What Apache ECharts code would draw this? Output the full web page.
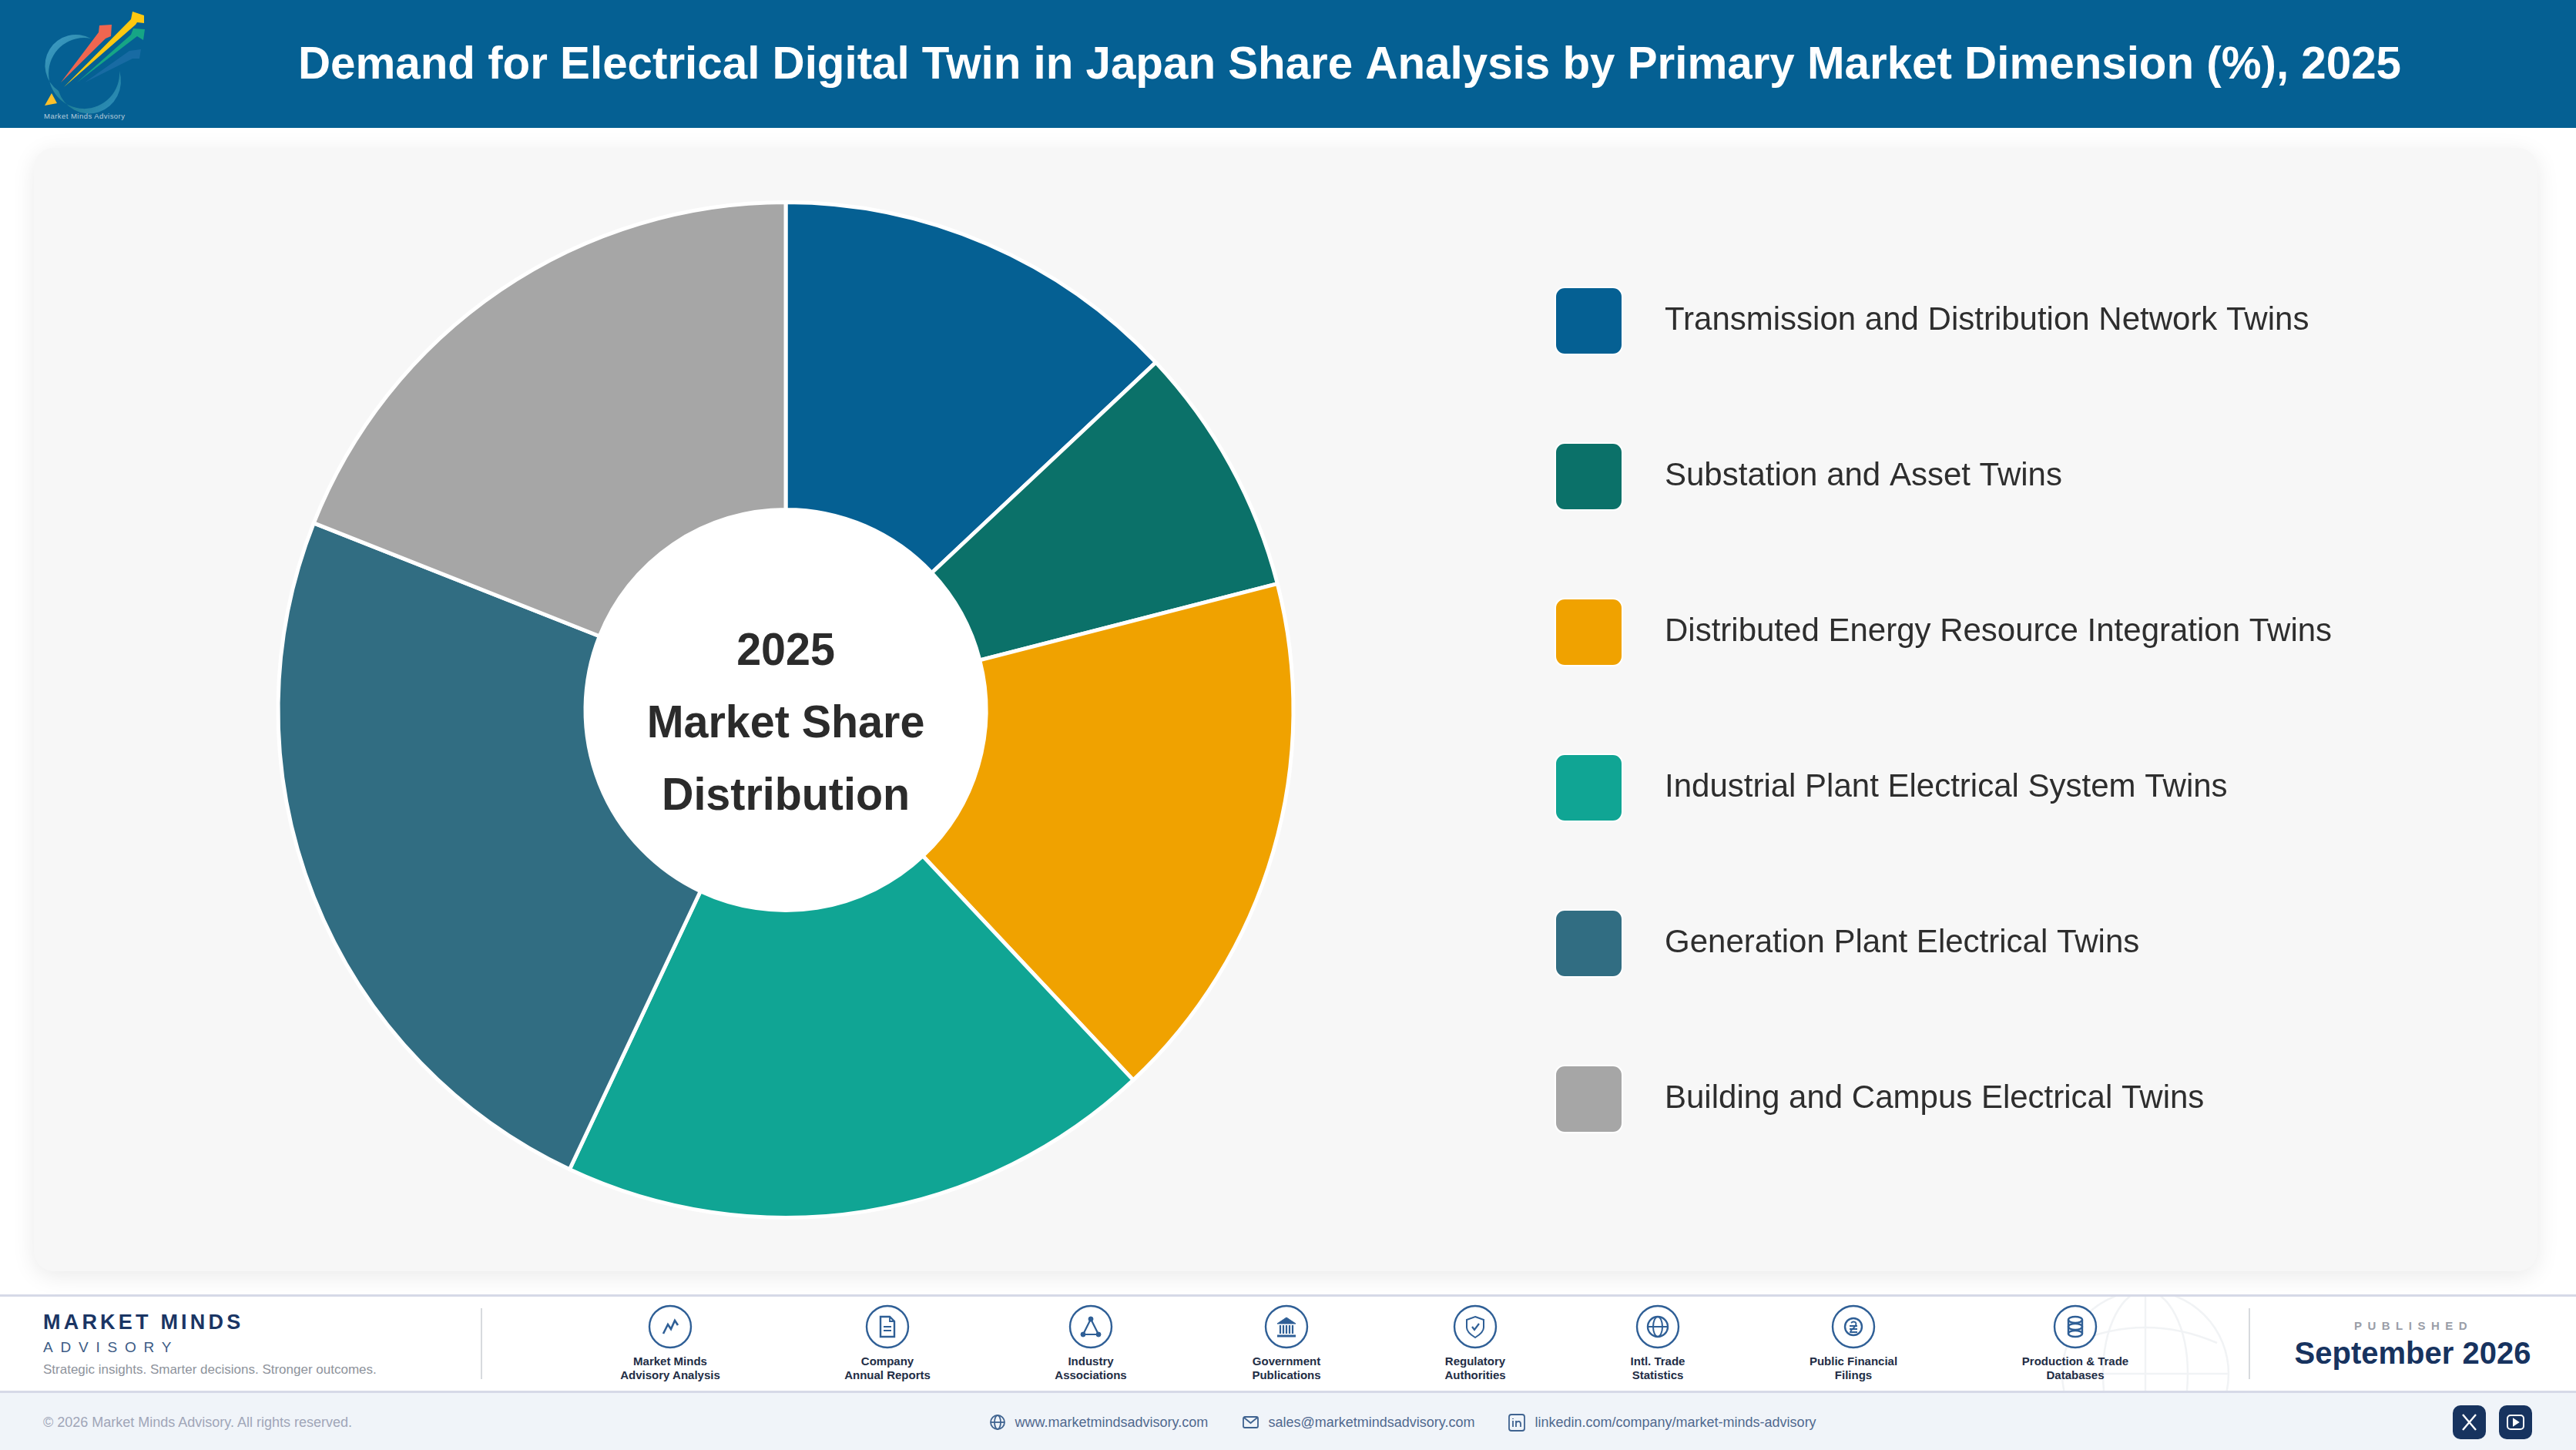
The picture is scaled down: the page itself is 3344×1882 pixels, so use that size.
<!DOCTYPE html>
<html><head><meta charset="utf-8">
<script src="https://cdn.jsdelivr.net/npm/echarts@6/dist/echarts.min.js"></script>
<style>
html,body{margin:0;padding:0;background:#fff;width:3344px;height:1882px;overflow:hidden;font-family:"Liberation Sans",Arial,sans-serif}
.abs,.abs *{box-sizing:border-box}
.abs{position:absolute;white-space:nowrap}
#header{left:0;top:0;width:3344px;height:166px;background:#056093}
#card{left:44px;top:192px;width:3250px;height:1458px;background:#f7f7f7;border-radius:26px;box-shadow:0 6px 30px rgba(0,0,0,.085)}
#chart{position:absolute;left:0;top:0;width:3344px;height:1882px}
#band{left:0;top:1680px;width:3344px;height:128px;background:#fff;border-top:3px solid #d6d9e7;border-bottom:3px solid #d6d9e7;overflow:hidden}
#strip{left:0;top:1808px;width:3344px;height:74px;background:#f0f4f9}
.ctr{transform:translate(-50%,-50%);text-align:center}
.lbl{font-size:15px;font-weight:700;line-height:18px;color:#222d45;text-align:center;transform:translateX(-50%)}
.vr{width:2px;background:#d7dade}
.contact{font-size:18px;color:#50698f;transform:translateY(-50%)}
.btn{width:43px;height:44px;border-radius:10px;background:#17335f;top:1824px}
</style></head><body>
<div class="abs" id="header"></div>
<svg class="abs" style="left:0;top:0" width="200" height="166" viewBox="0 0 200 166">
<defs><linearGradient id="ring" x1="0" y1="0" x2="1" y2="1"><stop offset="0" stop-color="#3f9cc8"/><stop offset=".6" stop-color="#1f7f96"/><stop offset="1" stop-color="#2f8fc0"/></linearGradient></defs>
<path d="M118 50 A46 46 0 1 0 155 92 A40 41 0 0 1 76 118 A40 40 0 0 1 118 50Z" fill="url(#ring)"/>
<polygon points="79,107 128,42 129,33 145,32 144,47 137,50" fill="#ef6650"/>
<polygon points="110,107 168,66 183,64 181,76 172,76" fill="#1f6fa8" opacity=".75"/>
<polygon points="100,107 170,45 173,37 188,38 186,52 178,47" fill="#16a585"/>
<polygon points="83,113 170,25 172,15 187,20 187,30 178,29 176,32" fill="#fdc810"/>
<polygon points="58,137 67,121 74,134" fill="#fdc02a"/>
<text x="57" y="154" font-size="9.5" fill="#b9cedd" textLength="105" font-family="Liberation Sans">Market Minds Advisory</text>
</svg>
<div class="abs" id="card"></div>
<div id="chart"></div>
<div class="abs" id="band"></div>
<div class="abs" id="strip"></div>
<svg class="abs" style="left:2660px;top:1683px" width="250" height="122" viewBox="0 0 250 122" fill="none" stroke="#f1f3f5" stroke-width="2.5">
<circle cx="125" cy="100" r="108"/><ellipse cx="125" cy="100" rx="55" ry="108"/><path d="M125 -8V208M17 100H233"/><path d="M32 60 Q125 20 218 60"/>
</svg>
<div id="foot"></div>
<script>
var categories = ['Transmission and Distribution Network Twins','Substation and Asset Twins','Distributed Energy Resource Integration Twins','Industrial Plant Electrical System Twins','Generation Plant Electrical Twins','Building and Campus Electrical Twins'];
var shares = [13,8,17,19,24,19];
var colors = ['#056093','#0b7169','#f0a200','#10a594','#316d82','#a6a6a6'];
var titleText = 'Demand for Electrical Digital Twin in Japan Share Analysis by Primary Market Dimension (%), 2025';
var centerLines = ['2025','Market Share','Distribution'];
var sourceLabels = [['Market Minds','Advisory Analysis'],['Company','Annual Reports'],['Industry','Associations'],['Government','Publications'],['Regulatory','Authorities'],['Intl. Trade','Statistics'],['Public Financial','Filings'],['Production & Trade','Databases']];
var sourceX = [870,1152,1416,1670,1915,2152,2406,2694];
var sourceIcons = [
 '<path d="M-9 9L-3 -3L1 3L6 -8L10 -2" stroke-width="2.6" fill="none"/>',
 '<path d="M-9 -13H3L9 -7V13H-9Z" stroke-width="2.4" fill="none"/><path d="M3 -13V-7H9M-5 0H5M-5 5H5" stroke-width="1.8" fill="none"/>',
 '<path d="M0 -10L-10 10H10Z" stroke-width="2.2" fill="none"/><circle cx="0" cy="-10" r="3" fill="#2f5f96"/><circle cx="-10" cy="10" r="3" fill="#2f5f96"/><circle cx="10" cy="10" r="3" fill="#2f5f96"/>',
 '<path d="M0 -12L12 -4H-12Z" fill="#2f5f96"/><path d="M-8 -2V9M-4 -2V9M0 -2V9M4 -2V9M8 -2V9" stroke-width="2.2" fill="none"/><path d="M-12 12H12" stroke-width="3" fill="none"/>',
 '<path d="M0 -13L11 -9V1C11 7 5 11 0 14C-5 11 -11 7 -11 1V-9Z" stroke-width="2" fill="none"/><path d="M-4 0L-1 4L5 -4" stroke-width="2.2" fill="none"/>',
 '<circle r="13" stroke-width="2.4" fill="none"/><ellipse rx="6" ry="13" stroke-width="2" fill="none"/><path d="M-13 0H13" stroke-width="2" fill="none"/>',
 '<circle r="11" stroke-width="2.4" fill="none"/><path d="M-3 -5C0 -8 5 -6 3 -2C1 2 -4 4 -4 7H5M-5 -1H5M-5 3H5" stroke-width="1.8" fill="none"/>',
 '<ellipse cy="-9" rx="9" ry="4" stroke-width="2.4" fill="none"/><ellipse cy="0" rx="9" ry="4" stroke-width="2.4" fill="none"/><ellipse cy="9" rx="9" ry="4" stroke-width="2.4" fill="none"/><path d="M-9 -9V9M9 -9V9" stroke-width="2.4" fill="none"/>'
];
var h = '';
h += '<div class="abs" style="left:56px;top:1700px;font-size:27px;font-weight:700;letter-spacing:4.2px;line-height:32px;color:#1a3564">MARKET MINDS</div>';
h += '<div class="abs" style="left:56px;top:1738px;font-size:19px;letter-spacing:9.8px;line-height:22px;color:#3b5b85">ADVISORY</div>';
h += '<div class="abs" style="left:56px;top:1768px;font-size:17px;line-height:20px;color:#8e939c">Strategic insights. Smarter decisions. Stronger outcomes.</div>';
h += '<div class="abs vr" style="left:624px;top:1698px;height:92px"></div>';
h += '<div class="abs vr" style="left:2919px;top:1698px;height:92px"></div>';
sourceX.forEach(function(x,i){
  h += '<svg class="abs" style="left:'+(x-30)+'px;top:1692px" width="60" height="60" viewBox="-30 -30 60 60" stroke="#2f5f96"><circle r="27" fill="#fff" stroke-width="2.4"/>'+sourceIcons[i]+'</svg>';
  h += '<div class="abs lbl" style="left:'+x+'px;top:1758px">'+sourceLabels[i][0].replace('&','&amp;')+'<br>'+sourceLabels[i][1]+'</div>';
});
h += '<div class="abs ctr" style="left:3133px;top:1720px;font-size:15px;font-weight:700;letter-spacing:7.5px;color:#9a9ea8">PUBLISHED</div>';
h += '<div class="abs ctr" style="left:3132px;top:1756px;font-size:40px;font-weight:700;color:#17335f">September 2026</div>';
h += '<div class="abs" style="left:56px;top:1846px;font-size:18px;color:#a0a6b8;transform:translateY(-50%)">© 2026 Market Minds Advisory. All rights reserved.</div>';
[[1317.5,'www.marketmindsadvisory.com'],[1646.5,'sales@marketmindsadvisory.com'],[1992.5,'linkedin.com/company/market-minds-advisory']].forEach(function(c){
  h += '<div class="abs contact" style="left:'+c[0]+'px;top:1846px">'+c[1]+'</div>';
});
h += '<svg class="abs" style="left:1280px;top:1831px" width="720" height="30" viewBox="0 0 720 30" fill="none" stroke="#3f6390" stroke-width="1.8">'
  +'<circle cx="15" cy="15" r="9"/><ellipse cx="15" cy="15" rx="4" ry="9"/><path d="M6 15H24"/>'
  +'<rect x="334" y="8" width="19" height="14" rx="2"/><path d="M335 9L343.500 16L352 9"/>'
  +'<rect x="679" y="5" width="20" height="21" rx="3"/><path d="M684 13V21M684 10V11M688 21V13M688 16C689 13 694 13 694 17V21"/></svg>';
h += '<div class="abs btn" style="left:3184px"><svg width="43" height="44" fill="none" stroke="#fff" stroke-width="2.4"><path d="M13 12L30 32M30 12L13 32"/></svg></div>';
h += '<div class="abs btn" style="left:3244px"><svg width="43" height="44" fill="none" stroke="#fff" stroke-width="2"><rect x="11" y="13" width="21" height="18" rx="4"/><path d="M19 18L25 22L19 26Z" fill="#fff"/></svg></div>';
document.getElementById('foot').innerHTML = h;

var cx = 1020, cy = 921.5;
var centerFont = '700 60px "Liberation Sans"';
var chart = echarts.init(document.getElementById('chart'), null, {renderer:'canvas', width:3344, height:1882});
chart.setOption({
  animation:false,
  backgroundColor:'transparent',
  title:{text:titleText,left:1747,top:52,textAlign:'center',textStyle:{color:'#fff',fontFamily:'Liberation Sans',fontWeight:700,fontSize:58.3}},
  color:colors,
  legend:{orient:'vertical',left:2018,top:372,padding:0,itemWidth:87,itemHeight:87,itemGap:113,selectedMode:false,
    icon:'path://M12,0H74A12,12 0 0 1 86,12V74A12,12 0 0 1 74,86H12A12,12 0 0 1 0,74V12A12,12 0 0 1 12,0Z',
    textStyle:{color:'#2e2e2e',fontFamily:'Liberation Sans',fontSize:42,padding:[0,0,4,50]},data:categories},
  graphic:[
    {type:'circle',z:0,shape:{cx:cx,cy:cy,r:261},style:{fill:'#fff'},silent:true},
    {type:'text',z:10,x:cx,y:846,scaleX:0.957,style:{text:centerLines[0],fill:'#2b2b2b',font:centerFont,align:'center',verticalAlign:'middle'}},
    {type:'text',z:10,x:cx,y:940,scaleX:0.957,style:{text:centerLines[1],fill:'#2b2b2b',font:centerFont,align:'center',verticalAlign:'middle'}},
    {type:'text',z:10,x:cx,y:1034,scaleX:0.957,style:{text:centerLines[2],fill:'#2b2b2b',font:centerFont,align:'center',verticalAlign:'middle'}}
  ],
  series:[{type:'pie',center:[cx,cy],radius:[260,659],startAngle:90,clockwise:true,silent:true,
    label:{show:false},labelLine:{show:false},
    itemStyle:{borderColor:'#fff',borderWidth:5},
    data:categories.map(function(n,i){return {name:n,value:shares[i]};})}]
});
</script>
</body></html>
